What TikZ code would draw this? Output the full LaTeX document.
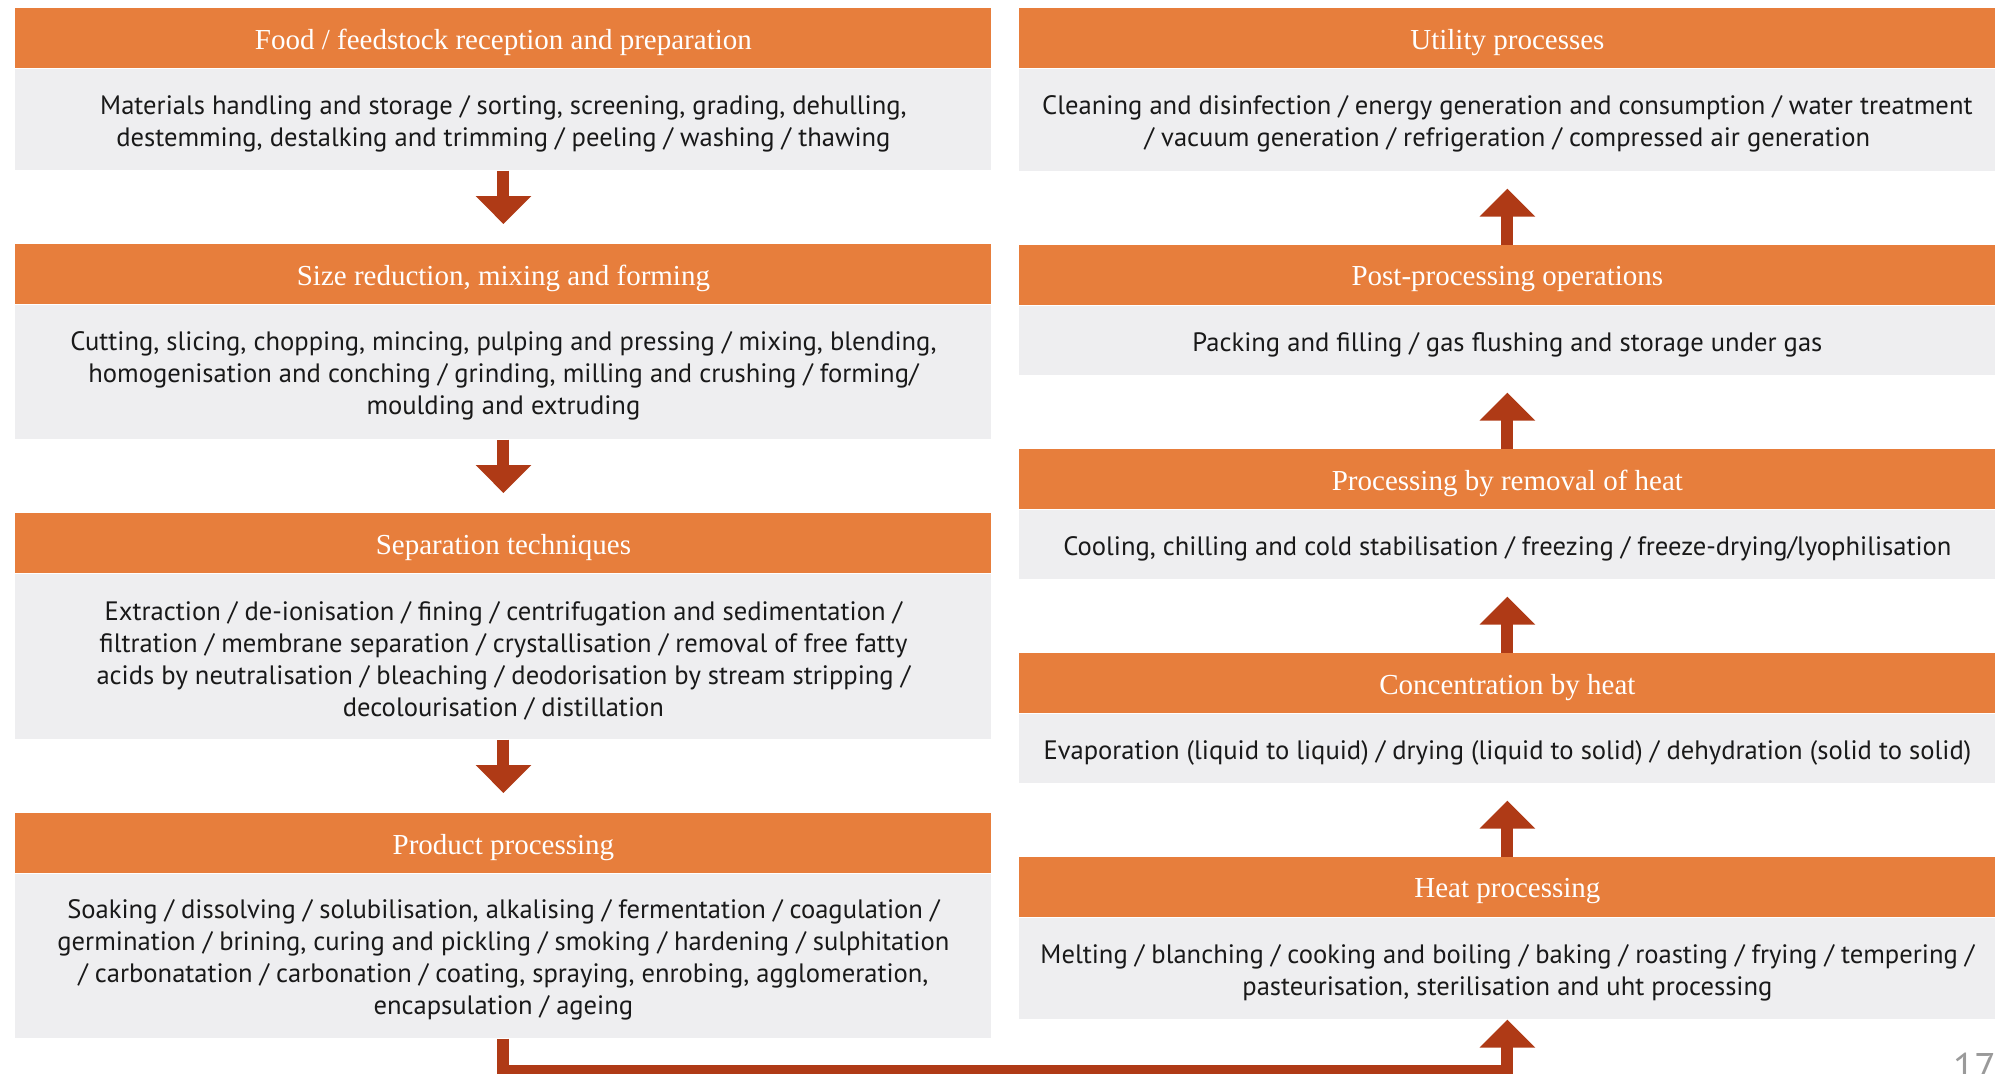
\documentclass[tikz,border=0pt]{standalone}
\usepackage{fontspec}
\setmainfont{Liberation Serif}
\newfontfamily\bodyfont{PT Sans}
\usetikzlibrary{arrows.meta,calc}
\definecolor{hdrorange}{HTML}{E77E3C}
\definecolor{bodygrey}{HTML}{EEEEF0}
\definecolor{arrowred}{HTML}{AF3A16}
\definecolor{pagegrey}{HTML}{9A9A9A}
\tikzset{
  hdr/.style={fill=hdrorange, draw=none, minimum width=488pt, minimum height=30pt, inner sep=0pt, anchor=north west},
  hdrtext/.style={text=white, inner sep=0pt, font=\fontsize{14.5}{17}\selectfont},
  bodybox/.style={fill=bodygrey, draw=none, minimum width=488pt, inner sep=0pt, anchor=north},
  bodytext/.style={text=black!90, inner sep=0pt, align=center, font=\bodyfont\fontsize{13.3}{16}\selectfont},
  arr/.style={draw=arrowred, line width=6pt, -{Triangle[width=27pt,length=14pt]}, arrowred},
}
\begin{document}
\begin{tikzpicture}[x=0.5pt,y=-0.5pt]
\useasboundingbox (0,0) rectangle (2004,1073);
\clip (0,0) rectangle (2004,1073);
% left column
\node[hdr] (lh1) at (15,8) {};
\node[hdrtext] (lh1t) at ($(lh1.center)+(0,4)$) {Food / feedstock reception and preparation};
\node[bodybox, minimum height=50.5pt] (lb1) at (lh1.south) {};
\node[bodytext] (lb1t) at ($(lb1.center)+(0,4)$) {Materials handling and storage / sorting, screening, grading, dehulling,\\destemming, destalking and trimming / peeling / washing / thawing};
\node[hdr] (lh2) at (15,244) {};
\node[hdrtext] (lh2t) at ($(lh2.center)+(0,4)$) {Size reduction, mixing and forming};
\node[bodybox, minimum height=67pt] (lb2) at (lh2.south) {};
\node[bodytext] (lb2t) at ($(lb2.center)+(0,4)$) {Cutting, slicing, chopping, mincing, pulping and pressing / mixing, blending,\\homogenisation and conching / grinding, milling and crushing / forming/\\moulding and extruding};
\node[hdr] (lh3) at (15,513) {};
\node[hdrtext] (lh3t) at ($(lh3.center)+(0,4)$) {Separation techniques};
\node[bodybox, minimum height=82.5pt] (lb3) at (lh3.south) {};
\node[bodytext] (lb3t) at ($(lb3.center)+(0,4)$) {Extraction / de-ionisation / fining / centrifugation and sedimentation /\\filtration / membrane separation / crystallisation / removal of free fatty\\acids by neutralisation / bleaching / deodorisation by stream stripping /\\decolourisation / distillation};
\node[hdr] (lh4) at (15,813) {};
\node[hdrtext] (lh4t) at ($(lh4.center)+(0,4)$) {Product processing};
\node[bodybox, minimum height=82pt] (lb4) at (lh4.south) {};
\node[bodytext] (lb4t) at ($(lb4.center)+(0,4)$) {Soaking / dissolving / solubilisation, alkalising / fermentation / coagulation /\\germination / brining, curing and pickling / smoking / hardening / sulphitation\\/ carbonatation / carbonation / coating, spraying, enrobing, agglomeration,\\encapsulation / ageing};
% right column
\node[hdr] (rh1) at (1019,8) {};
\node[hdrtext] (rh1t) at ($(rh1.center)+(0,4)$) {Utility processes};
\node[bodybox, minimum height=51pt] (rb1) at (rh1.south) {};
\node[bodytext] (rb1t) at ($(rb1.center)+(0,4)$) {Cleaning and disinfection / energy generation and consumption / water treatment\\/ vacuum generation / refrigeration / compressed air generation};
\node[hdr] (rh2) at (1019,245) {};
\node[hdrtext] (rh2t) at ($(rh2.center)+(0,4)$) {Post-processing operations};
\node[bodybox, minimum height=34.5pt] (rb2) at (rh2.south) {};
\node[bodytext] (rb2t) at ($(rb2.center)+(0,4)$) {Packing and filling / gas flushing and storage under gas};
\node[hdr] (rh3) at (1019,449) {};
\node[hdrtext] (rh3t) at ($(rh3.center)+(0,4)$) {Processing by removal of heat};
\node[bodybox, minimum height=34.5pt] (rb3) at (rh3.south) {};
\node[bodytext] (rb3t) at ($(rb3.center)+(0,4)$) {Cooling, chilling and cold stabilisation / freezing / freeze-drying/lyophilisation};
\node[hdr] (rh4) at (1019,653) {};
\node[hdrtext] (rh4t) at ($(rh4.center)+(0,4)$) {Concentration by heat};
\node[bodybox, minimum height=34.5pt] (rb4) at (rh4.south) {};
\node[bodytext] (rb4t) at ($(rb4.center)+(0,4)$) {Evaporation (liquid to liquid) / drying (liquid to solid) / dehydration (solid to solid)};
\node[hdr] (rh5) at (1019,857) {};
\node[hdrtext] (rh5t) at ($(rh5.center)+(0,4)$) {Heat processing};
\node[bodybox, minimum height=50.5pt] (rb5) at (rh5.south) {};
\node[bodytext] (rb5t) at ($(rb5.center)+(0,4)$) {Melting / blanching / cooking and boiling / baking / roasting / frying / tempering /\\pasteurisation, sterilisation and uht processing};
% left arrows (down)
\coordinate (la1) at ($(lh2.north)+(0,-20)$);
\draw[arr] (lb1.south) -- (la1);
\coordinate (la2) at ($(lh3.north)+(0,-20)$);
\draw[arr] (lb2.south) -- (la2);
\coordinate (la3) at ($(lh4.north)+(0,-20)$);
\draw[arr] (lb3.south) -- (la3);
% right arrows (up)
\coordinate (ra1) at ($(rb1.south)+(0,17)$);
\draw[arr] (rh2.north) -- (ra1);
\coordinate (ra2) at ($(rb2.south)+(0,17)$);
\draw[arr] (rh3.north) -- (ra2);
\coordinate (ra3) at ($(rb3.south)+(0,17)$);
\draw[arr] (rh4.north) -- (ra3);
\coordinate (ra4) at ($(rb4.south)+(0,17)$);
\draw[arr] (rh5.north) -- (ra4);
% bottom connector
\coordinate (base) at (0,1071);
\draw[arr, line join=miter] (lb4.south) -- (lb4.south |- base) -| (rb5.south);
% page number
\node[anchor=north east, inner sep=0pt, text=pagegrey, font=\bodyfont\fontsize{20}{20}\selectfont] (pg) at (1997,1053) {17};
\end{tikzpicture}
\end{document}
